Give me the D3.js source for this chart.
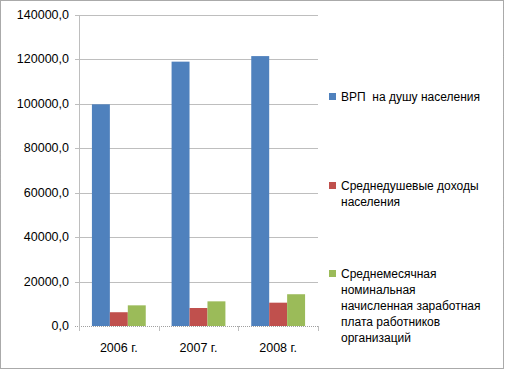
<!DOCTYPE html>
<html>
<head>
<meta charset="utf-8">
<script src="https://cdn.jsdelivr.net/npm/d3@7"></script>
<style>
  body { margin: 0; background: #fff; }
  text { font-family: "Liberation Sans", Arial, sans-serif; fill: #000; white-space: pre; }
</style>
</head>
<body>
<div id="chart"></div>
<script>
const years = ["2006 г.", "2007 г.", "2008 г."]
const seriesNames = ["ВРП  на душу населения", "Среднедушевые доходы населения",
    "Среднемесячная номинальная начисленная заработная плата работников организаций"]
const grpValues = [99800, 119000, 121500]
const incomeValues = [6200, 8100, 10500]
const wageValues = [9300, 11100, 14300]
const yTicks = [0, 20000, 40000, 60000, 80000, 100000, 120000, 140000]
const colors = ["#4F81BD", "#C0504D", "#9BBB59"]
// legend lines (wrapped as in the picture)
const legendLines = [
    ["ВРП  на душу населения"],
    ["Среднедушевые доходы", "населения"],
    ["Среднемесячная", "номинальная", "начисленная заработная", "плата работников", "организаций"]
]

const W = 505, H = 370
const plot = {left: 79, right: 318, top: 15, bottom: 326}

let svg = d3.select("#chart").append("svg")
    .attr("width", W)
    .attr("height", H)

// dotted frame round the chart
svg.append("rect")
    .attr("x", 0.5).attr("y", 0.5)
    .attr("width", 503).attr("height", 368)
    .attr("fill", "white")
    .attr("stroke", "#555")
    .attr("stroke-dasharray", "1,1")

let y = d3.scaleLinear()
    .domain([0, 140000])
    .range([plot.bottom, plot.top])

let x0 = d3.scaleBand()
    .domain(years)
    .range([plot.left, plot.right])

let x1 = d3.scaleBand()
    .domain(d3.range(3))
    .range([0, x0.bandwidth()])
    .paddingInner(0)
    .paddingOuter(0.72)

// gridlines
svg.append("g").selectAll("line").data(yTicks.filter(d => d > 0)).enter()
    .append("line")
    .attr("x1", plot.left - 4).attr("x2", plot.right)
    .attr("y1", d => Math.round(y(d)) + 0.5)
    .attr("y2", d => Math.round(y(d)) + 0.5)
    .attr("stroke", "#BEBEBE")
    .attr("stroke-width", 1)

// y tick labels
svg.append("g").selectAll("text").data(yTicks).enter()
    .append("text")
    .attr("x", plot.left - 10)
    .attr("y", d => y(d) + 4)
    .attr("text-anchor", "end")
    .attr("font-size", 12.5)
    .text(d => d3.format("d")(d) + ",0")

// bars
let data = years.map((yr, i) => ({year: yr, values: [grpValues[i], incomeValues[i], wageValues[i]]}))
let groups = svg.append("g").selectAll("g").data(data).enter()
    .append("g")
    .attr("transform", d => "translate(" + x0(d.year) + ",0)")

groups.selectAll("rect").data(d => d.values).enter()
    .append("rect")
    .attr("x", (d, i) => x1(i))
    .attr("y", d => y(d))
    .attr("width", x1.bandwidth())
    .attr("height", d => plot.bottom - y(d))
    .attr("fill", (d, i) => colors[i])

// axes lines
svg.append("line")
    .attr("x1", plot.left + 0.5).attr("x2", plot.left + 0.5)
    .attr("y1", plot.top).attr("y2", plot.bottom + 4)
    .attr("stroke", "#BEBEBE")
svg.append("line")
    .attr("x1", plot.left - 4).attr("x2", plot.right)
    .attr("y1", plot.bottom + 0.5).attr("y2", plot.bottom + 0.5)
    .attr("stroke", "#A0A0A0")
    .attr("stroke-dasharray", "1,1")

// category ticks
let bounds = years.map(d => x0(d)).concat([plot.right])
svg.append("g").selectAll("line").data(bounds).enter()
    .append("line")
    .attr("x1", d => Math.round(d) + 0.5).attr("x2", d => Math.round(d) + 0.5)
    .attr("y1", plot.bottom).attr("y2", plot.bottom + 5)
    .attr("stroke", "#BEBEBE")

// x labels
svg.append("g").selectAll("text").data(years).enter()
    .append("text")
    .attr("x", d => x0(d) + x0.bandwidth() / 2)
    .attr("y", 352)
    .attr("text-anchor", "middle")
    .attr("font-size", 12.5)
    .text(d => d)

// legend
const legendTop = [96, 185, 273]
let legend = svg.append("g").selectAll("g").data(seriesNames).enter()
    .append("g")
    .attr("transform", (d, i) => "translate(329," + legendTop[i] + ")")

legend.append("rect")
    .attr("x", 0).attr("y", -3)
    .attr("width", 7).attr("height", 7)
    .attr("fill", (d, i) => colors[i])

legend.each(function (d, i) {
    d3.select(this).selectAll("text").data(legendLines[i]).enter()
        .append("text")
        .attr("x", 12)
        .attr("y", (t, j) => 4.5 + j * 16)
        .attr("font-size", 12)
        .text(t => t)
})
</script>
</body>
</html>
